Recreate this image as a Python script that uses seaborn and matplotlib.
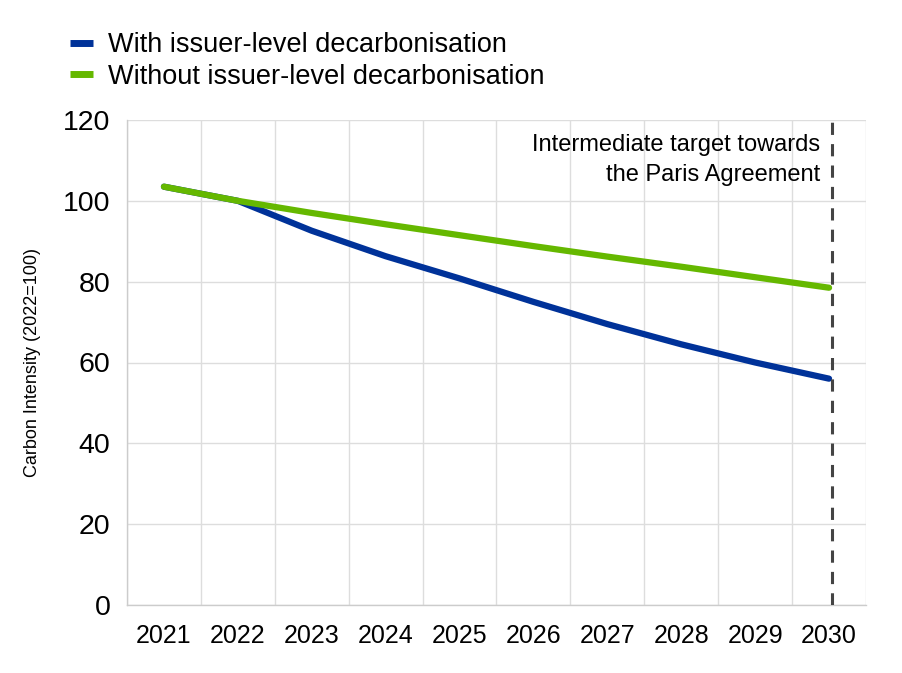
import matplotlib
matplotlib.use("Agg")
import matplotlib.pyplot as plt
import seaborn as sns
import pandas as pd
import numpy as np
from matplotlib.lines import Line2D

years = ["2021", "2022", "2023", "2024", "2025", "2026", "2027", "2028", "2029", "2030"]
with_decarb = [103.5, 100.0, 92.6, 86.3, 80.8, 75.0, 69.5, 64.5, 60.0, 56.0]
without_decarb = [103.5, 100.0, 97.0, 94.2, 91.5, 88.8, 86.2, 83.7, 81.1, 78.5]
label_with = "With issuer-level decarbonisation"
label_without = "Without issuer-level decarbonisation"
y_ticks = [0, 20, 40, 60, 80, 100, 120]
annotation = "Intermediate target towards\nthe Paris Agreement"

sns.set_theme(style="white")
plt.rcParams["font.family"] = ["Liberation Sans", "DejaVu Sans"]
plt.rcParams["text.color"] = "black"
plt.rcParams["xtick.color"] = "black"
plt.rcParams["ytick.color"] = "black"
plt.rcParams["axes.labelcolor"] = "black"

df = pd.DataFrame({
    "x": list(range(len(years))) * 2,
    "value": with_decarb + without_decarb,
    "series": [label_with] * len(years) + [label_without] * len(years),
})

fig = plt.figure(figsize=(9.03, 6.73), dpi=100)
ax = fig.add_axes([127 / 903, 1 - 605 / 673, (866 - 127) / 903, (605 - 120) / 673])

sns.lineplot(data=df, x="x", y="value", hue="series",
             palette={label_with: "#003299", label_without: "#65B800"},
             linewidth=4.5, ax=ax, legend=False, solid_capstyle="round")

ax.set_xlim(-0.5, len(years) - 0.5)
ax.set_ylim(0, 120)
ax.set_yticks(y_ticks)
ax.set_yticklabels([str(t) for t in y_ticks], fontsize=20.5)
ax.set_xticks(range(len(years)))
ax.set_xticklabels(years, fontsize=18)
ax.set_xticks(np.arange(-0.5, len(years), 1), minor=True)
ax.tick_params(axis="x", which="both", length=0, pad=14)
ax.tick_params(axis="y", length=0, pad=12)
ax.grid(False)
ax.grid(True, axis="y", which="major", color="#dddddd", linewidth=1)
ax.grid(True, axis="x", which="minor", color="#dddddd", linewidth=1)
for s in ["top", "right"]:
    ax.spines[s].set_visible(False)
for s in ["left", "bottom"]:
    ax.spines[s].set_color("#cccccc")
    ax.spines[s].set_linewidth(1)

ax.set_xlabel("")
ax.set_ylabel("Carbon Intensity (2022=100)", fontsize=13, labelpad=16)

ax.axvline(9.04, color="#444444", linestyle=(0, (4, 3)), linewidth=2.2, zorder=5)
ax.text(8.88, 116.5, annotation, ha="right", va="top", fontsize=17, linespacing=1.45)

handles = [Line2D([0], [0], color="#003299", linewidth=5, solid_capstyle="butt"),
           Line2D([0], [0], color="#65B800", linewidth=5, solid_capstyle="butt")]
fig.legend(handles, [label_with, label_without], loc="upper left",
           bbox_to_anchor=(70 / 903, 1 - 32 / 673), frameon=False, fontsize=19.5,
           handlelength=0.85, handletextpad=0.55, labelspacing=0.22, borderaxespad=0,
           borderpad=0)

fig.savefig("out.png", dpi=100)
